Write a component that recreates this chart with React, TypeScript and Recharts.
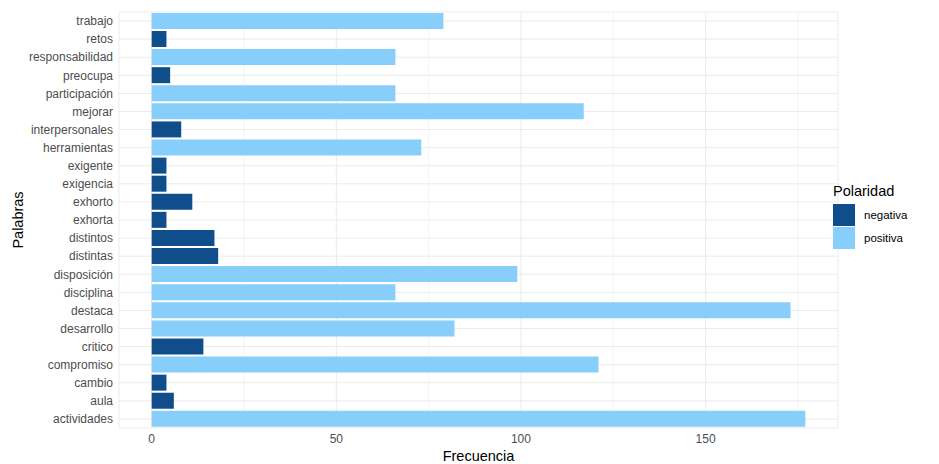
import { BarChart, Bar, XAxis, YAxis, CartesianGrid, Cell } from 'recharts'

// palabras de arriba hacia abajo
const palabras = [
  'trabajo', 'retos', 'responsabilidad', 'preocupa', 'participación', 'mejorar',
  'interpersonales', 'herramientas', 'exigente', 'exigencia', 'exhorto', 'exhorta',
  'distintos', 'distintas', 'disposición', 'disciplina', 'destaca', 'desarrollo',
  'critico', 'compromiso', 'cambio', 'aula', 'actividades',
]
const frecuencias = [79, 4, 66, 5, 66, 117, 8, 73, 4, 4, 11, 4, 17, 18, 99, 66, 173, 82, 14, 121, 4, 6, 177]
const polaridades = [
  'positiva', 'negativa', 'positiva', 'negativa', 'positiva', 'positiva',
  'negativa', 'positiva', 'negativa', 'negativa', 'negativa', 'negativa',
  'negativa', 'negativa', 'positiva', 'positiva', 'positiva', 'positiva',
  'negativa', 'positiva', 'negativa', 'negativa', 'positiva',
]
const niveles = ['negativa', 'positiva']
const xTicks = [0, 50, 100, 150]
const xMinor = [25, 75, 125, 175]
const xDomain = [-8.85, 185.85]

const colores: Record<string, string> = { negativa: '#104E8B', positiva: '#87CEFA' }
const font = '"Liberation Sans", Arial, Helvetica, sans-serif'

const data = palabras.map((p, i) => ({ palabra: p, n: frecuencias[i], polaridad: polaridades[i] }))

// líneas menores del grid (misma escala lineal que el eje X)
const minorGen = ({ offset }: any) =>
  xMinor.map((v) => offset.left + ((v - xDomain[0]) / (xDomain[1] - xDomain[0])) * offset.width)

export default function App() {
  return (
    <div style={{ position: 'absolute', left: 0, top: 0, width: 939, height: 464, background: '#fff', fontFamily: font }}>
      <BarChart
        width={939} height={464} data={data} layout="vertical"
        margin={{ top: 12, right: 101, bottom: 0, left: 0 }}
        barCategoryGap="5%"
      >
        <CartesianGrid horizontal={false} stroke="#F4F4F4" verticalCoordinatesGenerator={minorGen} />
        <CartesianGrid stroke="#EBEBEB" />
        <XAxis
          type="number" domain={xDomain} ticks={xTicks} allowDataOverflow
          axisLine={false} tickLine={false} tickSize={4} tickMargin={2} height={36}
          tick={{ fontSize: 12, fill: '#4D4D4D', fontFamily: font }}
          label={{ value: 'Frecuencia', position: 'insideBottom', offset: 3, fontSize: 14.5, fill: '#000', fontFamily: font }}
        />
        <YAxis
          type="category" dataKey="palabra" width={119} interval={0}
          axisLine={false} tickLine={false} tickSize={4} tickMargin={2}
          tick={{ fontSize: 12, fill: '#4D4D4D', fontFamily: font }}
          label={{ value: 'Palabras', angle: -90, position: 'insideLeft', offset: 18, fontSize: 14.5, fill: '#000', fontFamily: font, style: { textAnchor: 'middle' } }}
        />
        <Bar dataKey="n" isAnimationActive={false}>
          {data.map((d, i) => (
            <Cell key={i} fill={colores[d.polaridad]} />
          ))}
        </Bar>
      </BarChart>

      {/* leyenda */}
      <div style={{ position: 'absolute', left: 833, top: 183, fontFamily: font }}>
        <div style={{ fontSize: 14.5, color: '#000', marginBottom: 5 }}>Polaridad</div>
        {niveles.map((nv) => (
          <div key={nv} style={{ display: 'flex', alignItems: 'center', height: 22, marginBottom: 1 }}>
            <div style={{ width: 22, height: 22, background: colores[nv] }} />
            <span style={{ fontSize: 11.5, color: '#000', marginLeft: 9 }}>{nv}</span>
          </div>
        ))}
      </div>
    </div>
  )
}
